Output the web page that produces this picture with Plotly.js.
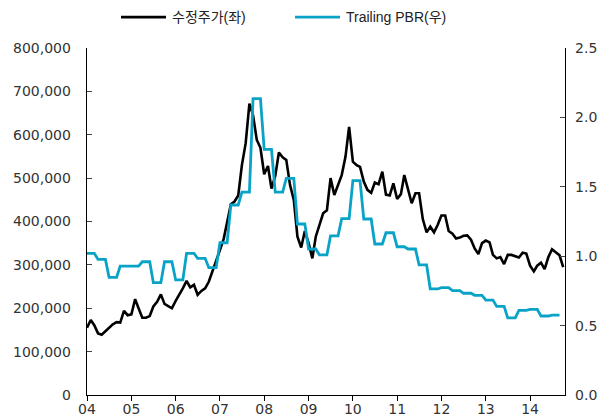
<!DOCTYPE html>
<html>
<head>
<meta charset="utf-8">
<script src="https://cdn.plot.ly/plotly-3.0.1.min.js"></script>
<style>
html,body{margin:0;padding:0;background:#fff;}
#chart{width:603px;height:419px;}
</style>
</head>
<body>
<div id="chart"></div>
<script>
// Monthly series starting January 2004
var startYear = 2004;
var seriesNames = ['수정주가(좌)', 'Trailing PBR(우)'];
var seriesColors = ['#000000', '#0AA3C8'];

// Adjusted share price (won), Jan 2004 - Oct 2014
var price = [
  155000,173000,161000,142000,139000,147000,157000,163000,168000,167000,194000,184000,
  186000,221000,200000,178000,178000,182000,204000,215000,232000,210000,205000,200000,
  217000,231000,246000,263000,248000,254000,231000,240000,246000,261000,284000,311000,
  334000,360000,398000,440000,446000,460000,530000,580000,672000,645000,588000,570000,
  509000,528000,476000,505000,559000,548000,542000,484000,450000,365000,340000,378000,
  350000,315000,365000,392000,419000,426000,500000,461000,484000,507000,549000,618000,
  538000,530000,526000,492000,473000,466000,490000,486000,515000,462000,460000,488000,
  452000,463000,507000,473000,442000,465000,465000,405000,375000,388000,375000,392000,
  414000,414000,378000,372000,361000,363000,367000,368000,358000,338000,325000,350000,
  356000,352000,323000,315000,318000,302000,323000,323000,320000,317000,328000,326000,
  298000,285000,298000,305000,290000,318000,336000,330000,322000,295000
];

// Trailing PBR (x), Jan 2004 - Sep 2014
var pbr = [
  1.021,1.021,1.021, 0.977,0.977,0.977, 0.848,0.848,0.848, 0.929,0.929,0.929,
  0.929,0.929,0.929, 0.960,0.960,0.960, 0.809,0.809,0.809, 0.960,0.960,0.960,
  0.829,0.829,0.829, 1.021,1.021,1.021, 0.985,0.985,0.985, 0.917,0.917,0.917,
  1.097,1.097,1.097, 1.369,1.369,1.369, 1.462,1.462,1.462, 2.135,2.135,2.135,
  1.770,1.770,1.770, 1.462,1.462,1.462, 1.561,1.561,1.561, 1.232,1.232,1.232,
  1.052,1.052,1.052, 1.009,1.009,1.009, 1.147,1.147,1.147, 1.270,1.270,1.270,
  1.544,1.544,1.544, 1.268,1.268,1.268, 1.088,1.088,1.088, 1.169,1.169,1.169,
  1.068,1.068,1.068, 1.052,1.052,1.052, 0.937,0.937,0.937, 0.764,0.764,0.764,
  0.773,0.773,0.773, 0.752,0.752,0.752, 0.733,0.733,0.733, 0.718,0.718,0.718,
  0.684,0.684,0.684, 0.638,0.638,0.638, 0.555,0.555,0.555, 0.610,0.610,0.610,
  0.617,0.617,0.617, 0.569,0.569,0.569, 0.576,0.576,0.576
];

function monthDates(n) {
  var out = [];
  for (var i = 0; i < n; i++) {
    var y = startYear + Math.floor(i / 12);
    var m = (i % 12) + 1;
    out.push(y + '-' + (m < 10 ? '0' + m : m) + '-01');
  }
  return out;
}

var font = 'DejaVu Sans, Noto Sans CJK KR, sans-serif';
var legendFont = 'Liberation Sans, Noto Sans CJK KR, sans-serif';

var traces = [
  {
    x: monthDates(price.length), y: price, name: seriesNames[0],
    type: 'scatter', mode: 'lines', yaxis: 'y',
    line: {color: seriesColors[0], width: 2.6}
  },
  {
    x: monthDates(pbr.length), y: pbr, name: seriesNames[1],
    type: 'scatter', mode: 'lines', yaxis: 'y2',
    line: {color: seriesColors[1], width: 2.8}
  }
];

// Legend drawn as sample lines + labels above the plot
var legendY = 1.089;
var legendItems = [
  {x0: 0.0711, x1: 0.1653, tx: 0.1736},
  {x0: 0.4351, x1: 0.5293, tx: 0.5377}
];
var shapes = [], annotations = [];
legendItems.forEach(function (it, i) {
  shapes.push({type: 'line', xref: 'paper', yref: 'paper',
    x0: it.x0, x1: it.x1, y0: legendY, y1: legendY,
    line: {color: seriesColors[i], width: 2.6}});
  annotations.push({xref: 'paper', yref: 'paper', x: it.tx, y: legendY,
    xanchor: 'left', yanchor: 'middle', showarrow: false,
    text: seriesNames[i], font: {family: legendFont, size: 14, color: '#222222'}});
});

var layout = {
  width: 603, height: 419,
  margin: {l: 87, r: 38, t: 48, b: 24, pad: 0},
  paper_bgcolor: '#ffffff', plot_bgcolor: '#ffffff',
  font: {family: font, size: 14, color: '#333333'},
  showlegend: false,
  shapes: shapes,
  annotations: annotations,
  xaxis: {
    type: 'date', range: ['2004-01-01', '2014-10-16'],
    tick0: '2004-01-01', dtick: 'M12', tickformat: '%y',
    ticks: 'outside', ticklen: 5, tickcolor: '#000', tickwidth: 1,
    showline: true, linecolor: '#000', linewidth: 1.3,
    showgrid: false, zeroline: false, ticklabelstandoff: -4,
    tickfont: {family: font, size: 14, color: '#333333'}
  },
  yaxis: {
    range: [0, 800000], dtick: 100000, tickformat: ',d',
    ticks: 'inside', ticklen: 5, tickcolor: '#444', tickwidth: 1,
    showline: true, linecolor: '#000', linewidth: 1.3,
    showgrid: false, zeroline: false, ticklabelstandoff: 12,
    tickfont: {family: font, size: 14, color: '#333333'}
  },
  yaxis2: {
    overlaying: 'y', side: 'right',
    range: [0, 2.5], dtick: 0.5, tickformat: '.1f',
    ticks: 'inside', ticklen: 5, tickcolor: '#444', tickwidth: 1,
    showline: true, linecolor: '#000', linewidth: 1.3,
    showgrid: false, zeroline: false, ticklabelstandoff: 6,
    tickfont: {family: font, size: 14, color: '#333333'}
  }
};

Plotly.newPlot('chart', traces, layout, {displayModeBar: false, staticPlot: true});
</script>
</body>
</html>
